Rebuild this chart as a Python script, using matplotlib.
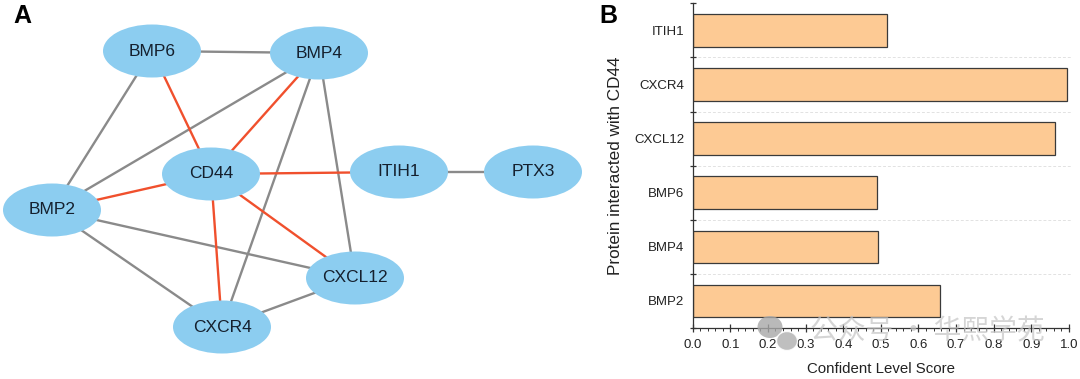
import matplotlib.pyplot as plt
from matplotlib.patches import Ellipse
from matplotlib.ticker import MultipleLocator, FixedLocator, NullFormatter

plt.rcParams['font.family'] = ['Liberation Sans', 'DejaVu Sans']

# Panel A - network (node layout in pixel space of the left panel)
node_names = ["BMP6", "BMP4", "CD44", "ITIH1", "PTX3", "BMP2", "CXCL12", "CXCR4"]
node_x = [152, 319, 211, 399, 533, 52, 355, 222]
node_y = [51, 53, 174, 172, 172, 210, 278, 327]

gray_edges = [("BMP6", "BMP4"), ("BMP6", "BMP2"), ("BMP4", "BMP2"), ("BMP4", "CXCR4"),
              ("BMP4", "CXCL12"), ("BMP2", "CXCL12"), ("BMP2", "CXCR4"),
              ("CXCR4", "CXCL12"), ("ITIH1", "PTX3")]
red_edges = [("BMP6", "CD44"), ("BMP4", "CD44"), ("CD44", "BMP2"), ("CD44", "ITIH1"),
             ("CD44", "CXCL12"), ("CD44", "CXCR4")]

# Panel B - bar chart
proteins = ["BMP2", "BMP4", "BMP6", "CXCL12", "CXCR4", "ITIH1"]
scores = [0.657, 0.492, 0.490, 0.964, 0.996, 0.517]

fig = plt.figure(figsize=(10.8, 3.79), dpi=100)

# ---- A ----
ax1 = fig.add_axes([0, 0, 600 / 1080, 1])
ax1.set_xlim(0, 600)
ax1.set_ylim(379, 0)
ax1.axis("off")

pos = {n: (x, y) for n, x, y in zip(node_names, node_x, node_y)}
for a, b in gray_edges:
    ax1.plot([pos[a][0], pos[b][0]], [pos[a][1], pos[b][1]], color="#8a8a8a", lw=1.7, zorder=1)
for a, b in red_edges:
    ax1.plot([pos[a][0], pos[b][0]], [pos[a][1], pos[b][1]], color="#f0502d", lw=1.7, zorder=1)
for n in node_names:
    ax1.add_patch(Ellipse(pos[n], 98, 53, facecolor="#8ccdf0", edgecolor="none", zorder=2))
    ax1.text(pos[n][0], pos[n][1], n, ha="center", va="center", fontsize=12.5,
             color="#15202e", zorder=3)

fig.text(0.012, 0.958, "A", fontsize=18, fontweight="bold", ha="left", va="center")
fig.text(0.555, 0.958, "B", fontsize=18, fontweight="bold", ha="left", va="center")

# ---- B ----
ax2 = fig.add_axes([0.6414, 0.1346, 0.3484, 0.8567])
ax2.barh(range(len(proteins)), scores, height=0.6, color="#fdca94",
         edgecolor="#3a3a3a", linewidth=0.9, zorder=2)
ax2.set_xlim(0, 1.0)
ax2.set_ylim(-0.5, len(proteins) - 0.5)
for s in ["top", "right"]:
    ax2.spines[s].set_visible(False)
for s in ["left", "bottom"]:
    ax2.spines[s].set_color("#333333")
    ax2.spines[s].set_linewidth(0.9)

bounds = [i - 0.5 for i in range(len(proteins) + 1)]
ax2.yaxis.set_major_locator(FixedLocator(bounds))
ax2.yaxis.set_major_formatter(NullFormatter())
ax2.yaxis.set_minor_locator(FixedLocator(range(len(proteins))))
ax2.set_yticklabels(proteins, minor=True)
ax2.tick_params(axis="y", which="major", direction="inout", length=5, width=0.9, color="#333333")
ax2.tick_params(axis="y", which="minor", length=0, pad=6, labelsize=9.5, labelcolor="#222222")
for b in bounds[1:-1]:
    ax2.plot([0, 1.007], [b, b], color="#e2e2e2", lw=0.7, ls=(0, (3, 2)), zorder=1,
             clip_on=False)

ax2.xaxis.set_major_locator(MultipleLocator(0.1))
ax2.xaxis.set_minor_locator(MultipleLocator(0.02))
ax2.xaxis.set_major_formatter(plt.FormatStrFormatter("%.1f"))
ax2.tick_params(axis="x", which="major", direction="inout", length=6, width=0.9,
                color="#333333", labelsize=9.5, labelcolor="#222222", pad=5)
ax2.tick_params(axis="x", which="minor", direction="out", length=2.5, width=0.7, color="#333333")

ax2.set_xlabel("Confident Level Score", fontsize=10.8, labelpad=8, color="#222222")
ax2.set_ylabel("Protein interacted with CD44", fontsize=12.3, labelpad=8, color="#222222")

# watermark
fig.add_artist(Ellipse((770 / 1080, 1 - 327 / 379), 25 / 1080, 22 / 379,
                       transform=fig.transFigure, facecolor="#a8a8a8", alpha=0.8,
                       edgecolor="none"))
fig.add_artist(Ellipse((787 / 1080, 1 - 341 / 379), 21 / 1080, 19 / 379,
                       transform=fig.transFigure, facecolor="#b4b4b4", alpha=0.85,
                       edgecolor="white", linewidth=1))
fig.text(0.859, 0.125, "公众号 · 华熙学苑", fontsize=20, color="#c4c4c4", alpha=0.7,
         ha="center", va="center", family=["Noto Sans CJK SC", "DejaVu Sans"])

fig.savefig("out.png", dpi=100)
